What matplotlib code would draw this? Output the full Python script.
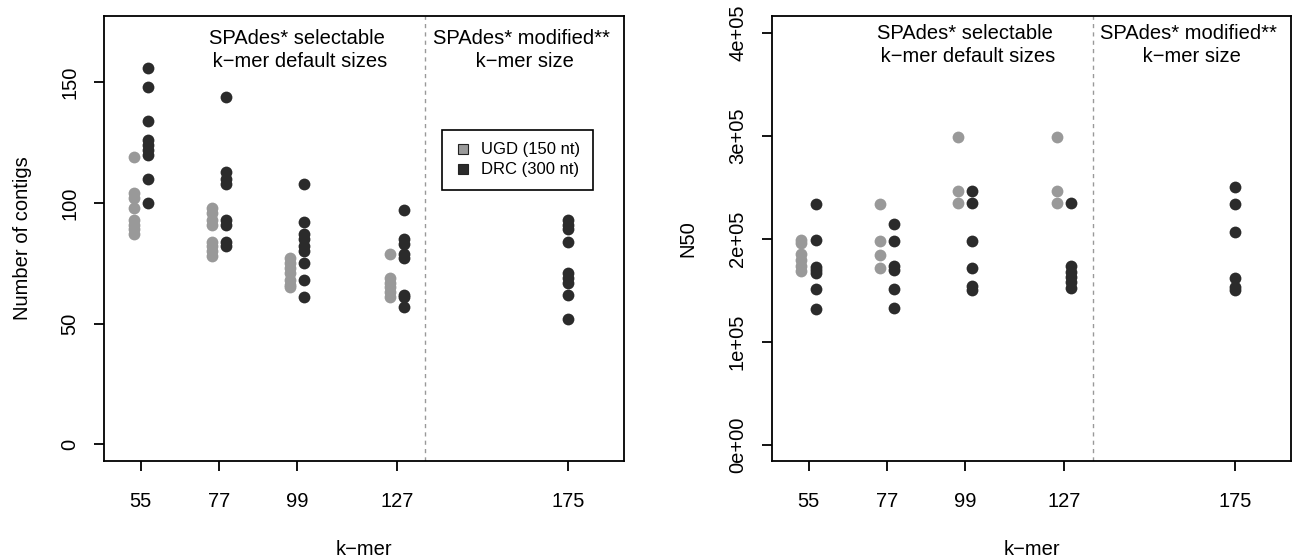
import numpy as np
import matplotlib.pyplot as plt
from matplotlib.lines import Line2D

# -----------------------------
# 1. Data
# -----------------------------

kmer_default = [55, 77, 99, 127]
kmer_modified = 175
kmer_ticks = [55, 77, 99, 127, 175]

# number of contigs
contigs_ugd = [
    [119, 104, 102, 98, 93, 91, 89, 87],
    [98, 96, 93, 91, 84, 82, 80, 78],
    [77, 75, 73, 71, 68, 66, 65],
    [79, 69, 67, 65, 63, 61],
]
contigs_drc = [
    [156, 148, 134, 126, 124, 122, 120, 110, 100],
    [144, 113, 110, 108, 93, 91, 84, 82],
    [108, 92, 87, 85, 82, 80, 75, 68, 61],
    [97, 85, 83, 79, 77, 62, 61, 57],
]
contigs_drc_175 = [93, 91, 89, 84, 71, 69, 67, 62, 52]

# N50 (x 1e5)
n50_ugd = [
    [1.99, 1.96, 1.85, 1.79, 1.74, 1.69],
    [2.34, 1.98, 1.84, 1.72],
    [2.99, 2.46, 2.35],
    [2.99, 2.46, 2.35],
]
n50_drc = [
    [2.34, 1.99, 1.73, 1.70, 1.67, 1.51, 1.32],
    [2.14, 1.98, 1.74, 1.70, 1.51, 1.33],
    [2.46, 2.35, 1.98, 1.72, 1.54, 1.50],
    [2.35, 1.74, 1.68, 1.63, 1.58, 1.52],
]
n50_drc_175 = [2.50, 2.34, 2.07, 1.62, 1.53, 1.50]

n50_ticks = [0, 1e5, 2e5, 3e5, 4e5]
n50_tick_labels = ["0e+00", "1e+05", "2e+05", "3e+05", "4e+05"]

# -----------------------------
# 2. Style
# -----------------------------

plt.rcParams["font.family"] = ["Liberation Sans", "DejaVu Sans"]
plt.rcParams["font.size"] = 14.5

ugd_color = "#999999"
drc_color = "#2b2b2b"
offset = 2.0
ms = 8.5


def draw_panel(ax, ugd, drc, drc_175, scale, ylim, text_y):
    for k, vals in zip(kmer_default, ugd):
        vals = np.array(vals) * scale
        ax.plot([k - offset] * len(vals), vals, "o", color=ugd_color, ms=ms, mew=0)
    for k, vals in zip(kmer_default, drc):
        vals = np.array(vals) * scale
        ax.plot([k + offset] * len(vals), vals, "o", color=drc_color, ms=ms, mew=0)
    vals = np.array(drc_175) * scale
    ax.plot([kmer_modified] * len(vals), vals, "o", color=drc_color, ms=ms, mew=0)

    ax.axvline(135, color="#999999", linestyle=(0, (3, 3)), linewidth=1)

    ax.set_xlim(44.7, 190.8)
    ax.set_ylim(*ylim)
    ax.set_xticks(kmer_ticks)
    ax.set_xticklabels([str(k) for k in kmer_ticks])
    ax.set_xlabel("k\u2212mer", labelpad=21)

    ax.text(99, text_y, "SPAdes* selectable\n k\u2212mer default sizes",
            ha="center", va="center", linespacing=1.25)
    ax.text(162, text_y, "SPAdes* modified**\n k\u2212mer size",
            ha="center", va="center", linespacing=1.25)

    for s in ax.spines.values():
        s.set_linewidth(1.3)
    ax.tick_params(axis="x", length=7, width=1.3, pad=15)
    ax.tick_params(axis="y", length=7, width=1.3, pad=11)
    for lab in ax.get_yticklabels():
        lab.set_rotation(90)
        lab.set_va("center")


# -----------------------------
# 3. Plot
# -----------------------------

fig = plt.figure(figsize=(12.93, 5.59), dpi=100)
ax1 = fig.add_axes([104 / 1293, 98 / 559, 520 / 1293, 445 / 559])
ax2 = fig.add_axes([772 / 1293, 98 / 559, 519 / 1293, 445 / 559])

ax1.set_yticks([0, 50, 100, 150])
draw_panel(ax1, contigs_ugd, contigs_drc, contigs_drc_175, 1, (-7, 177.5), 163.5)
ax1.set_ylabel("Number of contigs", labelpad=20)

handles = [
    Line2D([], [], marker="s", linestyle="none", markerfacecolor=ugd_color,
           markeredgecolor="#222222", ms=7.5, mew=0.8),
    Line2D([], [], marker="s", linestyle="none", markerfacecolor=drc_color,
           markeredgecolor="#222222", ms=7.5, mew=0.8),
]
leg = ax1.legend(handles, ["UGD (150 nt)", "DRC (300 nt)"], loc="upper left",
                 bbox_to_anchor=(0.65, 0.744), fontsize=12, frameon=True,
                 fancybox=False, framealpha=1, edgecolor="black",
                 handletextpad=0.6, handlelength=1.0, borderpad=0.75,
                 labelspacing=0.3, borderaxespad=0)
leg.get_frame().set_linewidth(1.2)

ax2.set_yticks(n50_ticks)
ax2.set_yticklabels(n50_tick_labels)
draw_panel(ax2, n50_ugd, n50_drc, n50_drc_175, 1e5, (-16000, 416600), 3.887e5)
ax2.set_ylabel("N50", labelpad=22)

fig.savefig("out.png", dpi=100)
